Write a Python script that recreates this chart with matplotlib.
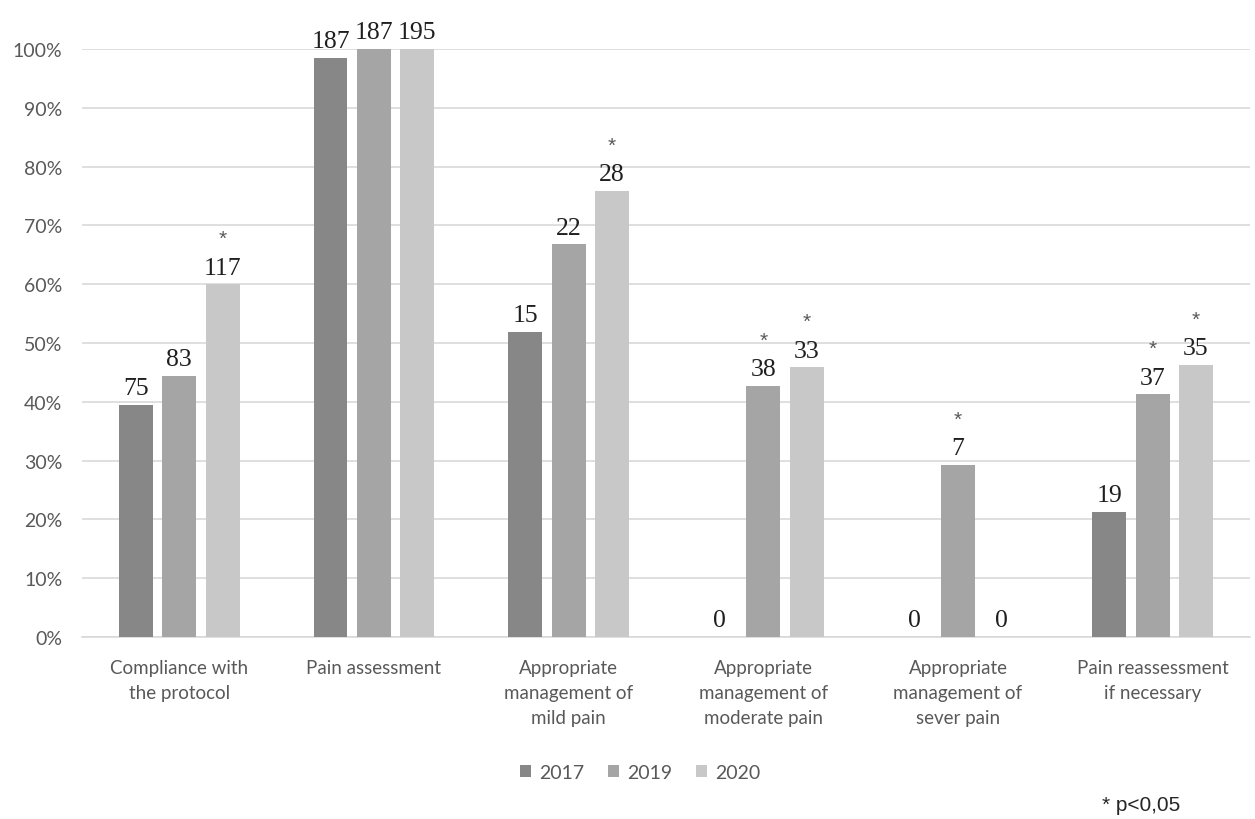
import numpy as np
import matplotlib.pyplot as plt

# categories and yearly shares (fraction of patients)
categories = ["Compliance with\nthe protocol", "Pain assessment",
              "Appropriate\nmanagement of\nmild pain", "Appropriate\nmanagement of\nmoderate pain",
              "Appropriate\nmanagement of\nsever pain", "Pain reassessment\nif necessary"]
years = ["2017", "2019", "2020"]
share_2017 = [0.395, 0.985, 0.519, 0.0, 0.0, 0.213]
share_2019 = [0.444, 1.0, 0.668, 0.427, 0.293, 0.413]
share_2020 = [0.600, 1.0, 0.759, 0.459, 0.0, 0.463]
counts_2017 = [75, 187, 15, 0, 0, 19]
counts_2019 = [83, 187, 22, 38, 7, 37]
counts_2020 = [117, 195, 28, 33, 0, 35]
signif_2017 = [False, False, False, False, False, False]
signif_2019 = [False, False, False, True, True, True]
signif_2020 = [True, False, True, True, False, True]

colors = ["#878787", "#a5a5a5", "#c8c8c8"]
text_col = "#595959"

fig = plt.figure(figsize=(12.55, 8.2), dpi=100)
ax = fig.add_axes([0.0653, 0.222, 0.9307, 0.717])

x = np.arange(len(categories))
width = 0.174
step = 0.223
series = [(share_2017, counts_2017, signif_2017),
          (share_2019, counts_2019, signif_2019),
          (share_2020, counts_2020, signif_2020)]

for i, (vals, cnts, sig) in enumerate(series):
    pos = x + (i - 1) * step
    ax.bar(pos, vals, width, color=colors[i], label=years[i], zorder=3)
    for p, v, c, s in zip(pos, vals, cnts, sig):
        ax.annotate(str(c), (p, v), xytext=(0, 4), textcoords="offset points",
                    ha="center", va="bottom", fontsize=18.5,
                    family="Liberation Serif", color="#1f1f1f")
        if s:
            ax.annotate("*", (p, v), xytext=(0, 26), textcoords="offset points",
                        ha="center", va="bottom", fontsize=15,
                        family="Liberation Sans", color=text_col)

ax.set_ylim(0, 1.0)
ax.set_xlim(-0.5, len(categories) - 0.5)
ax.set_yticks(np.arange(0, 1.01, 0.1))
ax.set_yticklabels([f"{int(round(t * 100))}%" for t in np.arange(0, 1.01, 0.1)],
                   fontsize=14, family="Lato", color=text_col)
ax.set_xticks(x)
ax.set_xticklabels(categories, fontsize=13.5, family="Lato", color=text_col,
                   linespacing=1.55, va="top")
ax.tick_params(axis="both", length=0)
ax.tick_params(axis="x", pad=16)
ax.tick_params(axis="y", pad=14)
ax.grid(axis="y", color="#d9d9d9", linewidth=1.2, zorder=0)
ax.set_axisbelow(True)
for side in ["top", "right", "left"]:
    ax.spines[side].set_visible(False)
ax.spines["bottom"].set_color("#d9d9d9")
ax.spines["bottom"].set_linewidth(1.2)

leg = fig.legend(loc="center", bbox_to_anchor=(0.51, 0.057), ncol=3, frameon=False,
                 prop={"family": "Lato", "size": 14}, handlelength=0.6, handleheight=0.6,
                 columnspacing=1.2, handletextpad=0.4)
for t in leg.get_texts():
    t.set_color(text_col)

fig.text(0.909, 0.018, "* p<0,05", ha="center", va="center", fontsize=15,
         family="Liberation Sans", color="#262626")

fig.savefig("out.png", dpi=100, facecolor="white")
